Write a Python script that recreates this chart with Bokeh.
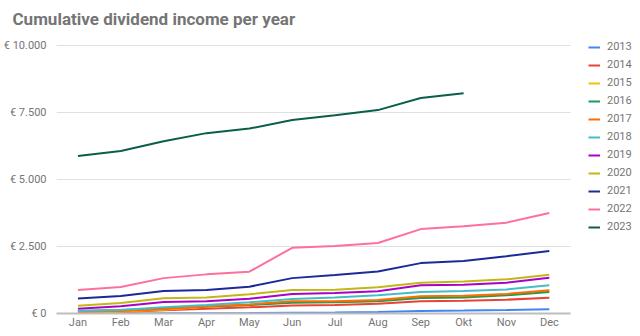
from bokeh.plotting import figure
from bokeh.models import Range1d, FixedTicker, Legend, LegendItem
from bokeh.embed import file_html
from bokeh.resources import INLINE

months = ["Jan", "Feb", "Mar", "Apr", "May", "Jun", "Jul", "Aug", "Sep", "Okt", "Nov", "Dec"]
years = ["2013", "2014", "2015", "2016", "2017", "2018", "2019", "2020", "2021", "2022", "2023"]
colors = ["#4285f4", "#ea4335", "#fbbc04", "#1e9a55", "#ff6d01", "#46bdc6",
          "#ab00c8", "#c2b815", "#1a2a99", "#ff6f9c", "#0b5e4a"]

y2013 = [0, 0, 5, 10, 15, 25, 35, 60, 95, 110, 130, 155]
y2014 = [20, 50, 120, 180, 230, 300, 320, 365, 455, 480, 515, 590]
y2015 = [30, 70, 140, 250, 320, 430, 440, 480, 620, 645, 710, 840]
y2016 = [95, 130, 200, 260, 320, 400, 420, 455, 580, 600, 680, 800]
y2017 = [50, 90, 155, 270, 340, 455, 460, 500, 640, 665, 730, 865]
y2018 = [95, 130, 230, 317, 420, 540, 600, 680, 800, 840, 900, 1050]
y2019 = [180, 270, 430, 455, 550, 730, 765, 830, 1050, 1075, 1150, 1335]
y2020 = [290, 390, 570, 600, 715, 877, 890, 980, 1150, 1190, 1275, 1450]
y2021 = [560, 650, 840, 880, 1000, 1320, 1440, 1570, 1880, 1960, 2140, 2330]
y2022 = [880, 990, 1320, 1460, 1560, 2450, 2520, 2630, 3150, 3260, 3390, 3750]
y2023 = [5880, 6060, 6430, 6730, 6900, 7220, 7400, 7590, 8040, 8220]

series = [y2013, y2014, y2015, y2016, y2017, y2018, y2019, y2020, y2021, y2022, y2023]

y_ticks = [0, 2500, 5000, 7500, 10000]
y_tick_labels = ["€ 0", "€ 2.500", "€ 5.000", "€ 7.500", "€ 10.000"]

FONT = "Roboto"
GREY = "#757575"

# layout geometry (pixels)
W, H = 640, 336
LEFT, TOP, BOTTOM = 54, 33, 23
STEP = 43.0                       # pixels per month
Y_TOP_PX = 45                     # pixel row of the 10.000 gridline
frame_w = W - LEFT
frame_h = H - TOP - BOTTOM
x_end = -0.5 + frame_w / STEP
px_per_unit = (frame_h - (Y_TOP_PX - TOP)) / max(y_ticks)
y_end = frame_h / px_per_unit

p = figure(width=W, height=H, x_range=Range1d(-0.5, x_end), y_range=Range1d(0, y_end),
           output_backend="svg", toolbar_location=None,
           min_border_left=LEFT, min_border_right=0, min_border_top=TOP, min_border_bottom=BOTTOM)

p.title.text = "Cumulative dividend income per year"
p.title.text_font = FONT
p.title.text_font_size = "17px"
p.title.text_font_style = "bold"
p.title.text_color = GREY
p.title.offset = -44
p.title.standoff = 10

p.outline_line_color = None
p.background_fill_color = "white"
p.border_fill_color = "white"

p.xgrid.grid_line_color = None
p.ygrid.grid_line_color = None

n_months = len(months)
grid_vals = y_ticks[1:]
p.segment(x0=[-0.5] * len(grid_vals), x1=[n_months - 0.5] * len(grid_vals),
          y0=grid_vals, y1=grid_vals, line_color="#e0e0e0", line_width=1)

p.yaxis.ticker = FixedTicker(ticks=y_ticks)
p.yaxis.major_label_overrides = {t: l for t, l in zip(y_ticks, y_tick_labels)}
p.yaxis.axis_line_color = None
p.yaxis.major_tick_line_color = None
p.yaxis.minor_tick_line_color = None
p.yaxis.major_label_standoff = 4
p.yaxis.major_label_text_font = FONT
p.yaxis.major_label_text_font_size = "11px"
p.yaxis.major_label_text_color = GREY

x_idx = list(range(n_months))
p.xaxis.ticker = FixedTicker(ticks=x_idx)
p.xaxis.major_label_overrides = {i: m for i, m in zip(x_idx, months)}
p.xaxis.bounds = (-0.5, n_months - 0.5)
p.xaxis.axis_line_color = "#bdbdbd"
p.xaxis.axis_line_width = 2
p.xaxis.major_tick_line_color = None
p.xaxis.minor_tick_line_color = None
p.xaxis.major_label_standoff = -4
p.xaxis.major_label_text_font = FONT
p.xaxis.major_label_text_font_size = "11px"
p.xaxis.major_label_text_color = GREY

items = []
for yr, col, vals in zip(years, colors, series):
    r = p.line(x_idx[:len(vals)], vals, line_color=col, line_width=2)
    items.append(LegendItem(label=yr, renderers=[r]))

legend = Legend(items=items, location=(532, 80), orientation="vertical",
                border_line_color=None, background_fill_alpha=0,
                label_text_font=FONT, label_text_font_size="11px", label_text_color=GREY,
                glyph_width=12, glyph_height=12, label_height=12, spacing=5,
                padding=0, margin=0, label_standoff=7)
p.add_layout(legend, "center")

open("out.html", "w").write(file_html(p, INLINE))
